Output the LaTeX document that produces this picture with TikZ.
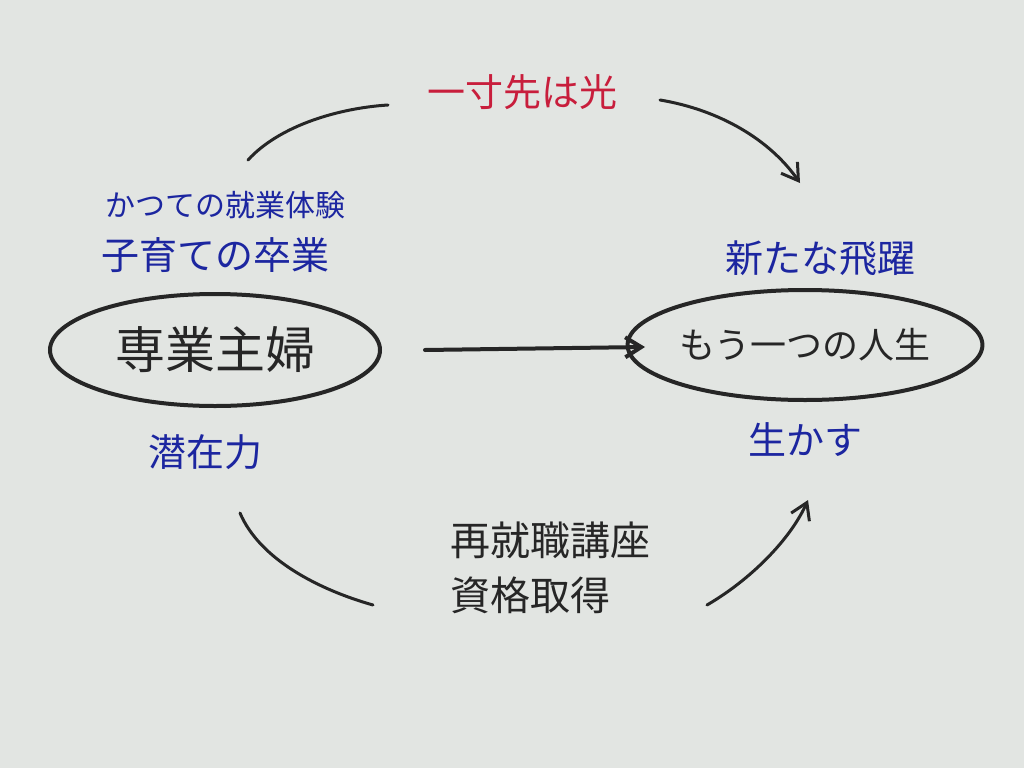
\documentclass[tikz,border=0pt]{standalone}
\usepackage{fontspec}
\newfontfamily\cjk{Noto Sans CJK JP}
\usetikzlibrary{arrows.meta,shapes.geometric}
\definecolor{bg}{RGB}{226,229,226}
\definecolor{pen}{RGB}{28,38,160}
\definecolor{redpen}{RGB}{200,30,60}
\tikzset{
  ink/.style={draw=black!85, line width=4pt, line cap=round},
  arr/.style={ink, -{Straight Barb[length=16pt,width=20pt]}},
  bluet/.style={text=pen, font=\cjk\fontsize{38}{40}\selectfont},
  blackt/.style={text=black!85, font=\cjk\fontsize{36}{38}\selectfont},
}
\begin{document}
\begin{tikzpicture}[x=1pt,y=-1pt]
\fill[bg] (0,0) rectangle (1024,768);
\useasboundingbox (0,0) rectangle (1024,768);
% ellipses
\node[ink, ellipse, minimum width=330pt, minimum height=112pt, inner sep=0pt, blackt, font=\cjk\fontsize{50}{52}\selectfont] (home) at (215,350) {専業主婦};
\node[ink, ellipse, minimum width=336pt, minimum height=110pt, inner sep=0pt, blackt] (life) at (805,345) {もう一つの人生};
\draw[arr] (425,350) -- (645,347);
% labels
\node[text=redpen, font=\cjk\fontsize{38}{40}\selectfont] (light) at (522,92) {一寸先は光};
\node[bluet, font=\cjk\fontsize{30}{32}\selectfont] (exp) at (225,205) {かつての就業体験};
\node[bluet] (grad) at (215,255) {子育ての卒業};
\node[bluet] (pot) at (205,452) {潜在力};
\node[bluet] (jump) at (820,258) {新たな飛躍};
\node[bluet] (use) at (805,440) {生かす};
\node[blackt, font=\cjk\fontsize{40}{42}\selectfont] (course) at (550,540) {再就職講座};
\node[blackt, font=\cjk\fontsize{40}{42}\selectfont] (cert) at (530,595) {資格取得};
% arcs
\coordinate (t1) at (248,160); \coordinate (t2) at (388,105);
\coordinate (t3) at (660,100); \coordinate (t4) at (800,183);
\coordinate (b1) at (240,513); \coordinate (b2) at (373,605);
\coordinate (b3) at (707,605); \coordinate (b4) at (808,500);
\draw[ink, line width=3pt] (t1) .. controls (280,125) and (340,108) .. (t2);
\draw[arr, line width=3pt] (t3) .. controls (720,110) and (770,140) .. (t4);
\draw[ink, line width=3pt] (b1) .. controls (260,560) and (320,590) .. (b2);
\draw[arr, line width=3pt] (b3) .. controls (750,580) and (790,540) .. (b4);
\end{tikzpicture}
\end{document}
